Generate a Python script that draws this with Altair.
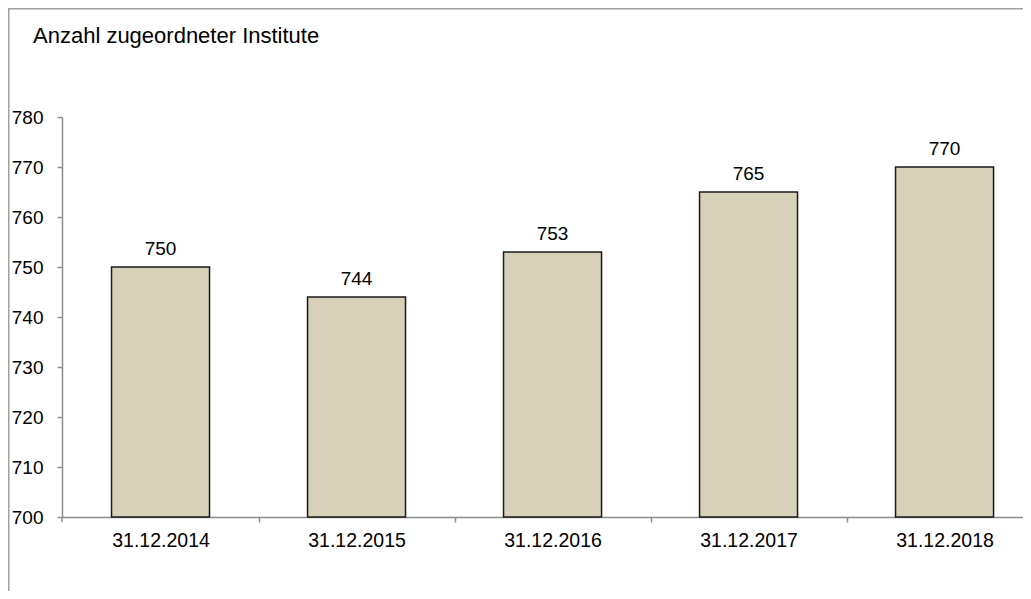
import altair as alt
import pandas as pd

title_text = "Anzahl zugeordneter Institute"
categories = ["31.12.2014", "31.12.2015", "31.12.2016", "31.12.2017", "31.12.2018"]
values = [750, 744, 753, 765, 770]
y_ticks = [700, 710, 720, 730, 740, 750, 760, 770, 780]

FONT = "Liberation Sans"
AXIS_GRAY = "#8c8c8c"
df = pd.DataFrame({"datum": categories, "anzahl": values})

x_enc = alt.X(
    "datum:N",
    sort=None,
    scale=alt.Scale(paddingInner=0.5, paddingOuter=0.2015, align=0.627),
    axis=alt.Axis(
        title=None, labelAngle=0, tickSize=5, tickOffset=98, labelOffset=-98,
        labelPadding=9, labelFontSize=19.5, labelColor="#000000",
        domainColor=AXIS_GRAY, tickColor=AXIS_GRAY, domainWidth=1.5, tickWidth=1.5,
    ),
)
y_enc = alt.Y(
    "anzahl:Q",
    scale=alt.Scale(domain=[700, 780], zero=False, nice=False),
    axis=alt.Axis(
        title=None, values=y_ticks, grid=False, tickSize=5, labelPadding=14,
        labelFontSize=19, labelColor="#000000",
        domainColor=AXIS_GRAY, tickColor=AXIS_GRAY, domainWidth=1.5, tickWidth=1.5,
    ),
)

bars = alt.Chart(df).mark_bar(
    color="#D7D1BA", stroke="#1a1a1a", strokeWidth=1.5
).encode(x=x_enc, y=y_enc, y2=alt.datum(700))

labels = alt.Chart(df).mark_text(
    baseline="alphabetic", dy=-12, fontSize=19, font=FONT, color="#000000"
).encode(x=alt.X("datum:N", sort=None), y="anzahl:Q", text="anzahl:Q")

one = pd.DataFrame({"k": [0]})
border = alt.Chart(one).mark_rect(
    filled=False, stroke="#a0a0a0", strokeWidth=1.5
).encode(
    x=alt.value(-53.25), x2=alt.value(3000), y=alt.value(-108.25), y2=alt.value(3000)
)
first_tick = alt.Chart(one).mark_rule(color=AXIS_GRAY, strokeWidth=1.5).encode(
    x=alt.value(0), y=alt.value(400), y2=alt.value(405)
)
title = alt.Chart(one).mark_text(
    text=title_text, align="left", baseline="alphabetic",
    fontSize=22, font=FONT, color="#000000"
).encode(x=alt.value(-29), y=alt.value(-74))

chart = alt.layer(border, first_tick, bars, labels, title).properties(
    width=961, height=400,
    autosize=alt.AutoSizeParams(type="none"),
    padding={"left": 54, "top": 109, "right": 0, "bottom": 74},
).configure_view(stroke=None).configure_axis(labelFont=FONT)

chart.save("out.html", embed_options={"renderer": "svg", "actions": False})
